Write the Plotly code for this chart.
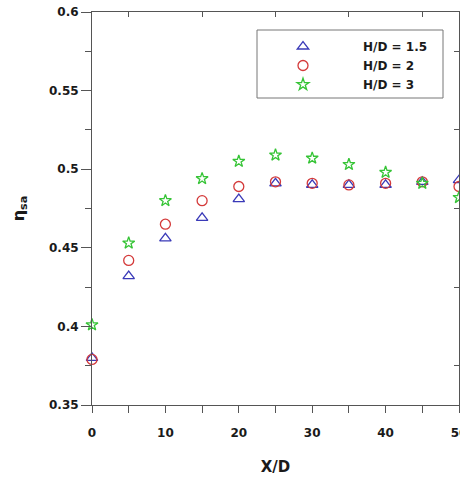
import plotly.graph_objects as go

x_d = [0, 5, 10, 15, 20, 25, 30, 35, 40, 45, 50]
eta_hd15 = [0.380, 0.432, 0.456, 0.469, 0.481, 0.491, 0.490, 0.490, 0.490, 0.492, 0.493]
eta_hd2 = [0.379, 0.442, 0.465, 0.480, 0.489, 0.492, 0.491, 0.490, 0.491, 0.492, 0.489]
eta_hd3 = [0.401, 0.453, 0.480, 0.494, 0.505, 0.509, 0.507, 0.503, 0.498, 0.491, 0.482]
series_names = ["H/D = 1.5", "H/D = 2", "H/D = 3"]
x_ticks = [0, 10, 20, 30, 40, 50]
y_ticks = [0.35, 0.4, 0.45, 0.5, 0.55, 0.6]
y_ticktext = ["0.35", "0.4", "0.45", "0.5", "0.55", "0.6"]

FONT = "DejaVu Sans"
AX = "#555555"
TXT = "#1a1a1a"

fig = go.Figure()
styles = [
    ("triangle-up-open", "#3a3ab8", 10),
    ("circle-open", "#d43a3a", 10),
    ("star-open", "#36c436", 9),
]
for name, ys, (sym, col, sz) in zip(series_names, [eta_hd15, eta_hd2, eta_hd3], styles):
    fig.add_trace(go.Scatter(
        x=x_d, y=ys, mode="markers", name=name, cliponaxis=False,
        marker=dict(symbol=sym, size=sz, color=col, line=dict(width=1.3, color=col)),
    ))

# invisible trace on mirror axes for inside ticks on top/right
fig.add_trace(go.Scatter(x=[None], y=[None], xaxis="x2", yaxis="y2", showlegend=False))

fig.update_layout(
    width=460, height=481,
    margin=dict(l=92, r=1, t=12, b=76, autoexpand=False),
    paper_bgcolor="white", plot_bgcolor="white",
    showlegend=True,
    legend=dict(
        x=(243 - 92) / 367, y=(405 - 32) / 393, xanchor="left", yanchor="top",
        bgcolor="rgba(0,0,0,0)", borderwidth=0, itemwidth=110,
        font=dict(family=FONT, size=12, color=TXT, weight="bold"),
        tracegroupgap=0,
    ),
    xaxis=dict(
        range=[0, 50], tickvals=x_ticks, ticktext=[str(v) for v in x_ticks],
        ticks="outside", ticklen=7, tickcolor=AX, tickwidth=1, automargin=False,
        ticklabelstandoff=10, ticklabeloverflow="allow",
        minor=dict(dtick=5, ticks="outside", ticklen=7, tickcolor=AX),
        showline=True, linecolor=AX, linewidth=1, showgrid=False, zeroline=False,
        tickfont=dict(family=FONT, size=12, color=TXT, weight="bold"),
        title=dict(text="X/D", font=dict(family=FONT, size=15, color=TXT, weight="bold"), standoff=22),
    ),
    yaxis=dict(
        range=[0.35, 0.6], tickvals=y_ticks, ticktext=y_ticktext,
        ticks="outside", ticklen=10, tickcolor=AX, tickwidth=1, automargin=False,
        ticklabeloverflow="allow",
        minor=dict(dtick=0.025, tick0=0.35, ticks="outside", ticklen=6, tickcolor=AX),
        showline=True, linecolor=AX, linewidth=1, showgrid=False, zeroline=False,
        tickfont=dict(family=FONT, size=12, color=TXT, weight="bold"),
        title=dict(text="η<sub>sa</sub>", font=dict(family=FONT, size=16, color=TXT, weight="bold"), standoff=20),
    ),
    xaxis2=dict(
        overlaying="x", side="top", range=[0, 50], tickvals=[5, 15, 25, 35, 45],
        ticks="inside", ticklen=5, tickcolor=AX, showticklabels=False, automargin=False,
        showline=True, linecolor=AX, showgrid=False, zeroline=False,
    ),
    yaxis2=dict(
        overlaying="y", side="right", range=[0.35, 0.6], tickvals=[0.375, 0.425, 0.475, 0.525, 0.575],
        ticks="inside", ticklen=5, tickcolor=AX, showticklabels=False, automargin=False,
        showline=True, linecolor=AX, showgrid=False, zeroline=False,
    ),
    shapes=[dict(
        type="rect", xref="paper", yref="paper",
        x0=(257 - 92) / 367, x1=(443 - 92) / 367, y0=(405 - 98) / 393, y1=(405 - 30) / 393,
        line=dict(color="#777777", width=1), fillcolor="rgba(0,0,0,0)", layer="above",
    )],
)

fig.write_html(
    "out.html",
    config={"displayModeBar": False},
    post_script="document.body.style.margin='0';document.body.style.overflow='hidden';",
)
